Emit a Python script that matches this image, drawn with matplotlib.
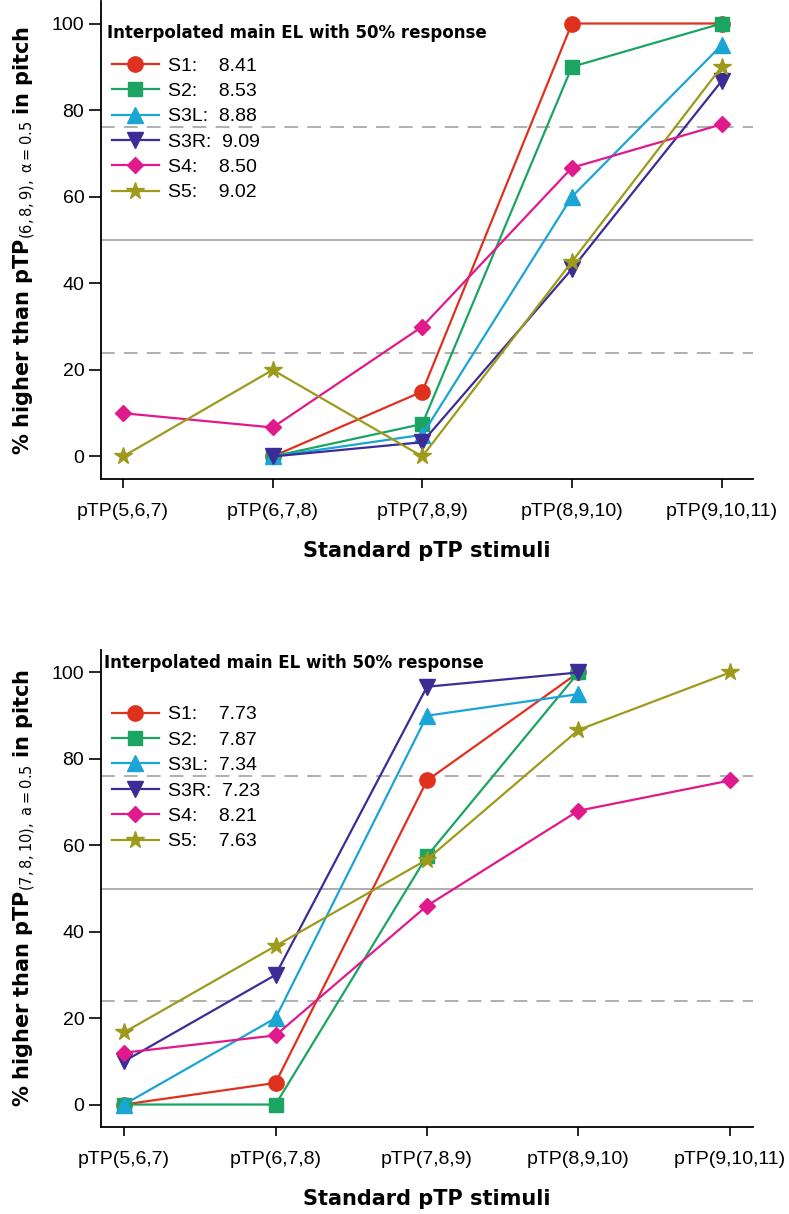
import matplotlib
matplotlib.use("Agg")
import matplotlib.pyplot as plt

plt.rcParams['font.family'] = ['Liberation Sans', 'DejaVu Sans']
plt.rcParams['mathtext.fontset'] = 'custom'
plt.rcParams['mathtext.rm'] = 'DejaVu Sans'
plt.rcParams['mathtext.bf'] = 'DejaVu Sans:bold'
plt.rcParams['mathtext.it'] = 'DejaVu Sans:italic'

STIMULI = ["pTP(5,6,7)", "pTP(6,7,8)", "pTP(7,8,9)", "pTP(8,9,10)", "pTP(9,10,11)"]
SUBJECTS = ["S1", "S2", "S3L", "S3R", "S4", "S5"]
COLORS = ["#E0301E", "#1BA462", "#1AA5D4", "#3B2D95", "#E0198C", "#9E9A1C"]
MARKERS = ["o", "s", "^", "v", "D", "*"]

# top panel: reference pTP(6,8,9)
TOP_EL = ["8.41", "8.53", "8.88", "9.09", "8.50", "9.02"]
TOP = {
    "S1": [None, 0, 15, 100, 100],
    "S2": [None, 0, 7.5, 90, 100],
    "S3L": [None, 0, 5, 60, 95],
    "S3R": [None, 0, 3.3, 43.3, 86.7],
    "S4": [10, 6.7, 30, 66.7, 76.7],
    "S5": [0, 20, 0, 45, 90],
}
# bottom panel: reference pTP(7,8,10)
BOT_EL = ["7.73", "7.87", "7.34", "7.23", "8.21", "7.63"]
BOT = {
    "S1": [0, 5, 75, 100, None],
    "S2": [0, 0, 57.5, 100, None],
    "S3L": [0, 20, 90, 95, None],
    "S3R": [10, 30, 96.7, 100, None],
    "S4": [12, 16, 46, 68, 75],
    "S5": [16.7, 36.7, 56.7, 86.7, 100],
}

fig = plt.figure(figsize=(7.89, 12.14), dpi=100)
ax1 = fig.add_axes([101/789, 1-479/1214, 652/789, 478/1214])
ax2 = fig.add_axes([101/789, 1-1127/1214, 652/789, 477/1214])

MSIZE = {"o": 11, "s": 9.5, "^": 11, "v": 11, "D": 8.5, "*": 13}


def panel(ax, data, els, xlim, ylab, title_xy):
    for y in (24, 76):
        ax.axhline(y, color="#9a9a9a", lw=1.1, ls=(0, (9, 6)), zorder=1)
    ax.axhline(50, color="#9a9a9a", lw=1.1, zorder=1)
    handles = []
    for subj, col, mk, el in zip(SUBJECTS, COLORS, MARKERS, els):
        vals = data[subj]
        xs = [i for i, v in enumerate(vals) if v is not None]
        ys = [v for v in vals if v is not None]
        pad = "    " if len(subj) == 2 else "  "
        h, = ax.plot(xs, ys, marker=mk, color=col, lw=1.6, ms=MSIZE[mk],
                     label=f"{subj}:{pad}{el}", zorder=3)
        handles.append(h)
    ax.set_xlim(*xlim)
    ax.set_ylim(-5.2, 105.2)
    ax.set_xticks(range(5))
    ax.set_xticklabels(STIMULI, fontsize=14)
    ax.set_yticks([0, 20, 40, 60, 80, 100])
    ax.tick_params(axis="y", labelsize=14, length=9, width=1.2, pad=3)
    ax.tick_params(axis="x", length=6.5, width=1.2, pad=11)
    for s in ("top", "right"):
        ax.spines[s].set_visible(False)
    for s in ("left", "bottom"):
        ax.spines[s].set_linewidth(1.3)
    ax.set_xlabel("Standard pTP stimuli", fontsize=15, fontweight="bold",
                  family="DejaVu Sans", labelpad=15)
    ax.set_ylabel(ylab, fontsize=15, labelpad=10)
    ax.text(title_xy[0], title_xy[1], "Interpolated main EL with 50% response",
            fontsize=12, fontweight="bold", family="DejaVu Sans",
            ha="left", va="center", zorder=4)
    ax.legend(handles=handles, loc="upper left", bbox_to_anchor=(0.017, 0.883),
              frameon=False, fontsize=14, borderpad=0, borderaxespad=0,
              handlelength=2.4, handletextpad=0.5, labelspacing=0.4)


panel(ax1, TOP, TOP_EL, (-0.147, 4.21),
      r"$\mathbf{\%\ higher\ than\ pTP}_{\mathrm{(6,8,9),\ \alpha=0.5}}\mathbf{\ in\ pitch}$",
      (-0.107, 97.9))
panel(ax2, BOT, BOT_EL, (-0.152, 4.152),
      r"$\mathbf{\%\ higher\ than\ pTP}_{\mathrm{(7,8,10),\ a=0.5}}\mathbf{\ in\ pitch}$",
      (-0.132, 102.1))

fig.savefig("out.png", dpi=100)
